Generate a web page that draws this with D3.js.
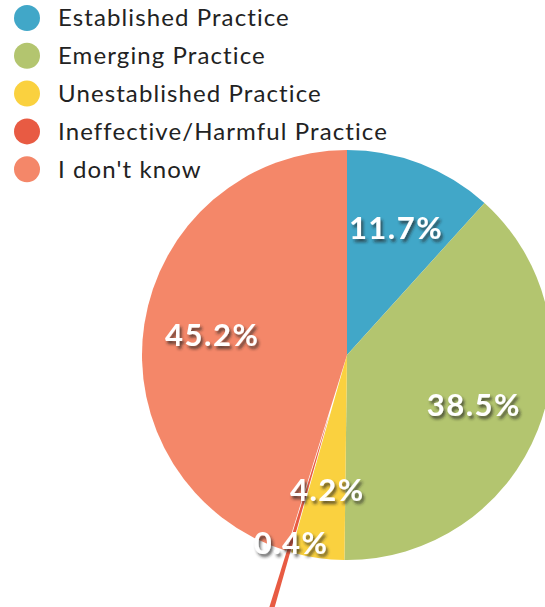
<!DOCTYPE html>
<html>
<head>
<meta charset="utf-8">
<script src="https://cdn.jsdelivr.net/npm/d3@7"></script>
<style>
  body { margin: 0; background: #fff; }
  svg { display: block; }
  .legend text { font-family: Lato, "Open Sans", sans-serif; font-size: 24px; letter-spacing: 1.1px; fill: #222; }
  .label { font-family: Lato, "Open Sans", sans-serif; font-size: 31px; font-weight: 700; letter-spacing: 1.5px; fill: #fff; }
</style>
</head>
<body>
<div id="vis"></div>
<script>
const WIDTH = 545;
const HEIGHT = 607;

// data
const categories = ["Established Practice", "Emerging Practice", "Unestablished Practice", "Ineffective/Harmful Practice", "I don't know"];
const values = [11.7, 38.5, 4.2, 0.4, 45.2];
const colours = ["#41a7c8", "#b3c56f", "#fad13f", "#e85b43", "#f48769"];
const exploded = [false, false, false, true, false];

const centre = { x: 347, y: 355 };
const radius = 205;
const explodeBy = 60;

const svg = d3.select('#vis')
  .append('svg')
  .attr('width', WIDTH)
  .attr('height', HEIGHT);

// drop shadow for the white labels
const defs = svg.append('defs');
defs.append('filter')
  .attr('id', 'shadow')
  .attr('x', '-20%').attr('y', '-30%')
  .attr('width', '150%').attr('height', '170%')
  .append('feDropShadow')
  .attr('dx', 2)
  .attr('dy', 3)
  .attr('stdDeviation', 1.6)
  .attr('flood-color', '#222')
  .attr('flood-opacity', 0.7);

const colour = d3.scaleOrdinal().domain(categories).range(colours);

const pie = d3.pie().sort(null).value(d => d.value);
const data = pie(categories.map((c, i) => ({ name: c, value: values[i], exploded: exploded[i] })));

const arc = d3.arc().innerRadius(0).outerRadius(radius);
const labelArc = d3.arc().innerRadius(radius * 0.665).outerRadius(radius * 0.665);

// offset along the slice bisector for pulled-out slices
function offset(d) {
  if (!d.data.exploded) return [0, 0];
  const a = (d.startAngle + d.endAngle) / 2;
  return [Math.sin(a) * explodeBy, -Math.cos(a) * explodeBy];
}

const g = svg.append('g')
  .attr('transform', `translate(${centre.x},${centre.y})`);

g.selectAll('.slice')
  .data(data)
  .enter()
  .append('path')
  .attr('class', 'slice')
  .attr('d', arc)
  .attr('fill', d => colour(d.data.name))
  .attr('transform', d => `translate(${offset(d)})`);

g.selectAll('.label')
  .data(data)
  .enter()
  .append('text')
  .attr('class', 'label')
  .attr('transform', d => {
    const c = labelArc.centroid(d);
    const o = offset(d);
    return `translate(${c[0] + o[0]},${c[1] + o[1]})`;
  })
  .attr('text-anchor', 'middle')
  .attr('dy', '0.36em')
  .attr('filter', 'url(#shadow)')
  .text(d => d.data.value.toFixed(1) + '%');

// legend
const legend = svg.append('g').attr('class', 'legend');
const item = legend.selectAll('g')
  .data(categories)
  .enter()
  .append('g')
  .attr('transform', (d, i) => `translate(27,${18 + i * 37.8})`);

item.append('circle')
  .attr('r', 13)
  .attr('fill', d => colour(d));

item.append('text')
  .attr('x', 31)
  .attr('dy', '0.35em')
  .text(d => d);
</script>
</body>
</html>
